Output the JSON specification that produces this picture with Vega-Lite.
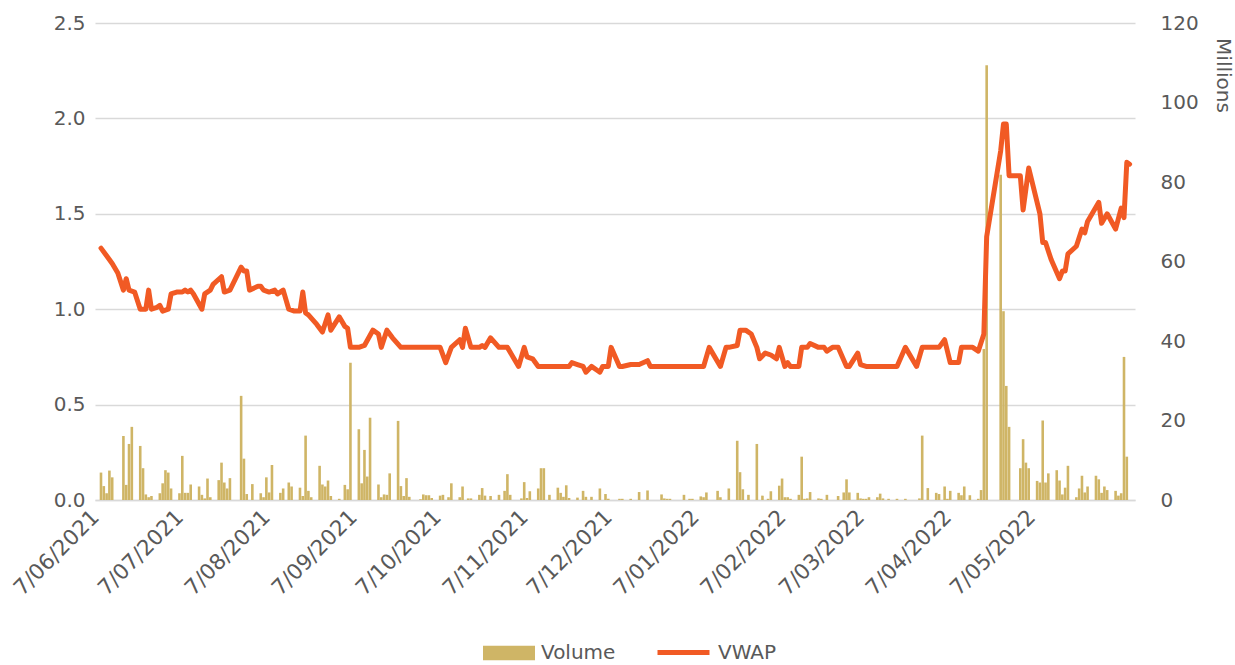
{
  "$schema": "https://vega.github.io/schema/vega-lite/v6.json",
  "width": 1040,
  "height": 477,
  "autosize": {"type": "none"},
  "padding": {"left": 95, "top": 23, "right": 100, "bottom": 165},
  "background": "white",
  "config": {
    "view": {"stroke": null},
    "font": "DejaVu Sans",
    "axis": {"labelColor": "#595959", "labelFontSize": 20, "labelFont": "DejaVu Sans", "ticks": false, "title": null}
  },
  "datasets": {
    "vwap": [
      {"date": "2021-06-07", "vwap": 1.32}, {"date": "2021-06-09", "vwap": 1.28}, {"date": "2021-06-11", "vwap": 1.24}, {"date": "2021-06-13", "vwap": 1.19},
      {"date": "2021-06-15", "vwap": 1.10}, {"date": "2021-06-16", "vwap": 1.16}, {"date": "2021-06-17", "vwap": 1.10}, {"date": "2021-06-19", "vwap": 1.09},
      {"date": "2021-06-21", "vwap": 1.00}, {"date": "2021-06-23", "vwap": 1.00}, {"date": "2021-06-24", "vwap": 1.10}, {"date": "2021-06-25", "vwap": 1.00},
      {"date": "2021-06-27", "vwap": 1.01}, {"date": "2021-06-28", "vwap": 1.02}, {"date": "2021-06-29", "vwap": 0.99}, {"date": "2021-07-01", "vwap": 1.00},
      {"date": "2021-07-02", "vwap": 1.08}, {"date": "2021-07-04", "vwap": 1.09}, {"date": "2021-07-06", "vwap": 1.09}, {"date": "2021-07-07", "vwap": 1.10},
      {"date": "2021-07-08", "vwap": 1.09}, {"date": "2021-07-09", "vwap": 1.10}, {"date": "2021-07-10", "vwap": 1.08}, {"date": "2021-07-13", "vwap": 1.00},
      {"date": "2021-07-14", "vwap": 1.08}, {"date": "2021-07-16", "vwap": 1.10}, {"date": "2021-07-17", "vwap": 1.13}, {"date": "2021-07-20", "vwap": 1.17},
      {"date": "2021-07-21", "vwap": 1.09}, {"date": "2021-07-23", "vwap": 1.10}, {"date": "2021-07-27", "vwap": 1.22}, {"date": "2021-07-28", "vwap": 1.20},
      {"date": "2021-07-29", "vwap": 1.20}, {"date": "2021-07-30", "vwap": 1.10}, {"date": "2021-08-02", "vwap": 1.12}, {"date": "2021-08-03", "vwap": 1.12},
      {"date": "2021-08-04", "vwap": 1.10}, {"date": "2021-08-06", "vwap": 1.09}, {"date": "2021-08-08", "vwap": 1.10}, {"date": "2021-08-09", "vwap": 1.08},
      {"date": "2021-08-11", "vwap": 1.10}, {"date": "2021-08-13", "vwap": 1.00}, {"date": "2021-08-15", "vwap": 0.99}, {"date": "2021-08-17", "vwap": 0.99},
      {"date": "2021-08-18", "vwap": 1.09}, {"date": "2021-08-19", "vwap": 0.98}, {"date": "2021-08-20", "vwap": 0.97}, {"date": "2021-08-23", "vwap": 0.92},
      {"date": "2021-08-25", "vwap": 0.88}, {"date": "2021-08-27", "vwap": 0.97}, {"date": "2021-08-28", "vwap": 0.89}, {"date": "2021-08-31", "vwap": 0.96},
      {"date": "2021-09-02", "vwap": 0.91}, {"date": "2021-09-03", "vwap": 0.90}, {"date": "2021-09-04", "vwap": 0.80}, {"date": "2021-09-07", "vwap": 0.80},
      {"date": "2021-09-09", "vwap": 0.81}, {"date": "2021-09-12", "vwap": 0.89}, {"date": "2021-09-14", "vwap": 0.87}, {"date": "2021-09-15", "vwap": 0.80},
      {"date": "2021-09-17", "vwap": 0.89}, {"date": "2021-09-19", "vwap": 0.85}, {"date": "2021-09-22", "vwap": 0.80}, {"date": "2021-10-06", "vwap": 0.80},
      {"date": "2021-10-08", "vwap": 0.72}, {"date": "2021-10-10", "vwap": 0.80}, {"date": "2021-10-13", "vwap": 0.84}, {"date": "2021-10-14", "vwap": 0.80},
      {"date": "2021-10-15", "vwap": 0.90}, {"date": "2021-10-17", "vwap": 0.80}, {"date": "2021-10-20", "vwap": 0.80}, {"date": "2021-10-21", "vwap": 0.81},
      {"date": "2021-10-22", "vwap": 0.80}, {"date": "2021-10-24", "vwap": 0.85}, {"date": "2021-10-27", "vwap": 0.80}, {"date": "2021-10-30", "vwap": 0.80},
      {"date": "2021-11-01", "vwap": 0.75}, {"date": "2021-11-03", "vwap": 0.70}, {"date": "2021-11-05", "vwap": 0.80}, {"date": "2021-11-06", "vwap": 0.75},
      {"date": "2021-11-08", "vwap": 0.74}, {"date": "2021-11-10", "vwap": 0.70}, {"date": "2021-11-21", "vwap": 0.70}, {"date": "2021-11-22", "vwap": 0.72},
      {"date": "2021-11-24", "vwap": 0.71}, {"date": "2021-11-26", "vwap": 0.70}, {"date": "2021-11-27", "vwap": 0.67}, {"date": "2021-11-29", "vwap": 0.70},
      {"date": "2021-12-01", "vwap": 0.68}, {"date": "2021-12-02", "vwap": 0.67}, {"date": "2021-12-03", "vwap": 0.70}, {"date": "2021-12-05", "vwap": 0.70},
      {"date": "2021-12-06", "vwap": 0.80}, {"date": "2021-12-09", "vwap": 0.70}, {"date": "2021-12-10", "vwap": 0.70}, {"date": "2021-12-13", "vwap": 0.71},
      {"date": "2021-12-16", "vwap": 0.71}, {"date": "2021-12-19", "vwap": 0.73}, {"date": "2021-12-20", "vwap": 0.70}, {"date": "2022-01-08", "vwap": 0.70},
      {"date": "2022-01-10", "vwap": 0.80}, {"date": "2022-01-14", "vwap": 0.70}, {"date": "2022-01-16", "vwap": 0.80}, {"date": "2022-01-17", "vwap": 0.80},
      {"date": "2022-01-20", "vwap": 0.81}, {"date": "2022-01-21", "vwap": 0.89}, {"date": "2022-01-23", "vwap": 0.89}, {"date": "2022-01-25", "vwap": 0.87},
      {"date": "2022-01-27", "vwap": 0.80}, {"date": "2022-01-28", "vwap": 0.74}, {"date": "2022-01-30", "vwap": 0.77}, {"date": "2022-02-01", "vwap": 0.76},
      {"date": "2022-02-03", "vwap": 0.74}, {"date": "2022-02-04", "vwap": 0.80}, {"date": "2022-02-06", "vwap": 0.70}, {"date": "2022-02-07", "vwap": 0.72},
      {"date": "2022-02-08", "vwap": 0.70}, {"date": "2022-02-11", "vwap": 0.70}, {"date": "2022-02-12", "vwap": 0.80}, {"date": "2022-02-14", "vwap": 0.80},
      {"date": "2022-02-15", "vwap": 0.82}, {"date": "2022-02-18", "vwap": 0.80}, {"date": "2022-02-20", "vwap": 0.80}, {"date": "2022-02-21", "vwap": 0.78},
      {"date": "2022-02-23", "vwap": 0.80}, {"date": "2022-02-25", "vwap": 0.80}, {"date": "2022-02-28", "vwap": 0.70}, {"date": "2022-03-01", "vwap": 0.70},
      {"date": "2022-03-04", "vwap": 0.77}, {"date": "2022-03-05", "vwap": 0.71}, {"date": "2022-03-07", "vwap": 0.70}, {"date": "2022-03-18", "vwap": 0.70},
      {"date": "2022-03-21", "vwap": 0.80}, {"date": "2022-03-25", "vwap": 0.70}, {"date": "2022-03-27", "vwap": 0.80}, {"date": "2022-04-02", "vwap": 0.80},
      {"date": "2022-04-04", "vwap": 0.84}, {"date": "2022-04-06", "vwap": 0.72}, {"date": "2022-04-09", "vwap": 0.72}, {"date": "2022-04-10", "vwap": 0.80},
      {"date": "2022-04-12", "vwap": 0.80}, {"date": "2022-04-14", "vwap": 0.80}, {"date": "2022-04-16", "vwap": 0.78}, {"date": "2022-04-18", "vwap": 0.87},
      {"date": "2022-04-19", "vwap": 1.38}, {"date": "2022-04-24", "vwap": 1.83}, {"date": "2022-04-25", "vwap": 1.97}, {"date": "2022-04-26", "vwap": 1.97},
      {"date": "2022-04-27", "vwap": 1.70}, {"date": "2022-05-01", "vwap": 1.70}, {"date": "2022-05-02", "vwap": 1.52}, {"date": "2022-05-04", "vwap": 1.74},
      {"date": "2022-05-08", "vwap": 1.50}, {"date": "2022-05-09", "vwap": 1.35}, {"date": "2022-05-10", "vwap": 1.35}, {"date": "2022-05-12", "vwap": 1.26},
      {"date": "2022-05-15", "vwap": 1.16}, {"date": "2022-05-16", "vwap": 1.20}, {"date": "2022-05-17", "vwap": 1.20}, {"date": "2022-05-18", "vwap": 1.29},
      {"date": "2022-05-21", "vwap": 1.33}, {"date": "2022-05-23", "vwap": 1.42}, {"date": "2022-05-24", "vwap": 1.40}, {"date": "2022-05-25", "vwap": 1.46},
      {"date": "2022-05-29", "vwap": 1.56}, {"date": "2022-05-30", "vwap": 1.45}, {"date": "2022-06-01", "vwap": 1.50}, {"date": "2022-06-04", "vwap": 1.42},
      {"date": "2022-06-06", "vwap": 1.53}, {"date": "2022-06-07", "vwap": 1.48}, {"date": "2022-06-08", "vwap": 1.77}, {"date": "2022-06-09", "vwap": 1.76}
    ],
    "volume": [
      {"date": "2021-06-07", "vol": 6.9}, {"date": "2021-06-08", "vol": 3.5}, {"date": "2021-06-09", "vol": 1.7}, {"date": "2021-06-10", "vol": 7.4}, {"date": "2021-06-11", "vol": 5.7},
      {"date": "2021-06-15", "vol": 16.1}, {"date": "2021-06-16", "vol": 3.8}, {"date": "2021-06-17", "vol": 14.1}, {"date": "2021-06-18", "vol": 18.4},
      {"date": "2021-06-21", "vol": 13.6}, {"date": "2021-06-22", "vol": 8.0}, {"date": "2021-06-23", "vol": 1.4}, {"date": "2021-06-24", "vol": 0.7}, {"date": "2021-06-25", "vol": 1.0},
      {"date": "2021-06-28", "vol": 1.7}, {"date": "2021-06-29", "vol": 4.2}, {"date": "2021-06-30", "vol": 7.5}, {"date": "2021-07-01", "vol": 6.9}, {"date": "2021-07-02", "vol": 2.9},
      {"date": "2021-07-05", "vol": 1.7}, {"date": "2021-07-06", "vol": 11.1}, {"date": "2021-07-07", "vol": 1.8}, {"date": "2021-07-08", "vol": 1.8}, {"date": "2021-07-09", "vol": 3.9},
      {"date": "2021-07-12", "vol": 3.4}, {"date": "2021-07-13", "vol": 1.3}, {"date": "2021-07-14", "vol": 0.4}, {"date": "2021-07-15", "vol": 5.4}, {"date": "2021-07-16", "vol": 0.7},
      {"date": "2021-07-19", "vol": 5.0}, {"date": "2021-07-20", "vol": 9.4}, {"date": "2021-07-21", "vol": 4.4}, {"date": "2021-07-22", "vol": 2.9}, {"date": "2021-07-23", "vol": 5.5},
      {"date": "2021-07-27", "vol": 26.2}, {"date": "2021-07-28", "vol": 10.4}, {"date": "2021-07-29", "vol": 1.5}, {"date": "2021-07-31", "vol": 4.0},
      {"date": "2021-08-03", "vol": 1.7}, {"date": "2021-08-04", "vol": 0.7}, {"date": "2021-08-05", "vol": 5.7}, {"date": "2021-08-06", "vol": 1.9}, {"date": "2021-08-07", "vol": 8.8},
      {"date": "2021-08-10", "vol": 1.8}, {"date": "2021-08-11", "vol": 2.9}, {"date": "2021-08-13", "vol": 4.4}, {"date": "2021-08-14", "vol": 3.4},
      {"date": "2021-08-17", "vol": 3.1}, {"date": "2021-08-18", "vol": 1.0}, {"date": "2021-08-19", "vol": 16.2}, {"date": "2021-08-20", "vol": 2.3}, {"date": "2021-08-21", "vol": 0.7},
      {"date": "2021-08-24", "vol": 8.6}, {"date": "2021-08-25", "vol": 3.9}, {"date": "2021-08-26", "vol": 3.4}, {"date": "2021-08-27", "vol": 4.9}, {"date": "2021-08-28", "vol": 1.0},
      {"date": "2021-08-31", "vol": 0.3}, {"date": "2021-09-02", "vol": 3.8}, {"date": "2021-09-03", "vol": 2.7}, {"date": "2021-09-04", "vol": 34.5},
      {"date": "2021-09-07", "vol": 17.8}, {"date": "2021-09-08", "vol": 4.2}, {"date": "2021-09-09", "vol": 12.6}, {"date": "2021-09-10", "vol": 5.9}, {"date": "2021-09-11", "vol": 20.7},
      {"date": "2021-09-14", "vol": 3.9}, {"date": "2021-09-15", "vol": 0.7}, {"date": "2021-09-16", "vol": 1.4}, {"date": "2021-09-17", "vol": 1.3}, {"date": "2021-09-18", "vol": 6.7},
      {"date": "2021-09-21", "vol": 19.9}, {"date": "2021-09-22", "vol": 3.5}, {"date": "2021-09-23", "vol": 1.0}, {"date": "2021-09-24", "vol": 5.5}, {"date": "2021-09-25", "vol": 0.8},
      {"date": "2021-09-29", "vol": 0.2}, {"date": "2021-09-30", "vol": 1.4}, {"date": "2021-10-01", "vol": 1.2}, {"date": "2021-10-02", "vol": 1.2}, {"date": "2021-10-03", "vol": 0.5},
      {"date": "2021-10-06", "vol": 1.1}, {"date": "2021-10-07", "vol": 1.3}, {"date": "2021-10-09", "vol": 0.7}, {"date": "2021-10-10", "vol": 4.2},
      {"date": "2021-10-13", "vol": 0.7}, {"date": "2021-10-14", "vol": 3.4}, {"date": "2021-10-16", "vol": 0.4}, {"date": "2021-10-17", "vol": 0.4},
      {"date": "2021-10-20", "vol": 1.3}, {"date": "2021-10-21", "vol": 3.0}, {"date": "2021-10-22", "vol": 1.1}, {"date": "2021-10-24", "vol": 1.0},
      {"date": "2021-10-27", "vol": 1.3}, {"date": "2021-10-29", "vol": 2.3}, {"date": "2021-10-30", "vol": 6.5}, {"date": "2021-10-31", "vol": 1.3},
      {"date": "2021-11-04", "vol": 0.4}, {"date": "2021-11-05", "vol": 4.5}, {"date": "2021-11-06", "vol": 0.5}, {"date": "2021-11-07", "vol": 2.2},
      {"date": "2021-11-10", "vol": 2.9}, {"date": "2021-11-11", "vol": 8.0}, {"date": "2021-11-12", "vol": 8.0}, {"date": "2021-11-14", "vol": 1.3},
      {"date": "2021-11-17", "vol": 3.1}, {"date": "2021-11-18", "vol": 1.8}, {"date": "2021-11-19", "vol": 0.8}, {"date": "2021-11-20", "vol": 3.7}, {"date": "2021-11-21", "vol": 0.5},
      {"date": "2021-11-24", "vol": 0.6}, {"date": "2021-11-26", "vol": 2.3}, {"date": "2021-11-27", "vol": 0.8}, {"date": "2021-11-29", "vol": 0.8},
      {"date": "2021-12-02", "vol": 2.9}, {"date": "2021-12-04", "vol": 1.5}, {"date": "2021-12-05", "vol": 0.3}, {"date": "2021-12-09", "vol": 0.3}, {"date": "2021-12-10", "vol": 0.3},
      {"date": "2021-12-13", "vol": 0.3}, {"date": "2021-12-16", "vol": 2.0}, {"date": "2021-12-19", "vol": 2.4}, {"date": "2021-12-24", "vol": 1.4}, {"date": "2021-12-25", "vol": 0.4},
      {"date": "2021-12-26", "vol": 0.3}, {"date": "2021-12-27", "vol": 0.3}, {"date": "2022-01-01", "vol": 1.3}, {"date": "2022-01-03", "vol": 0.3}, {"date": "2022-01-04", "vol": 0.3},
      {"date": "2022-01-07", "vol": 0.9}, {"date": "2022-01-08", "vol": 0.7}, {"date": "2022-01-09", "vol": 1.9}, {"date": "2022-01-13", "vol": 2.3}, {"date": "2022-01-14", "vol": 0.7},
      {"date": "2022-01-17", "vol": 2.9}, {"date": "2022-01-20", "vol": 14.9}, {"date": "2022-01-21", "vol": 7.0}, {"date": "2022-01-22", "vol": 2.7}, {"date": "2022-01-24", "vol": 1.3},
      {"date": "2022-01-27", "vol": 14.1}, {"date": "2022-01-29", "vol": 1.1}, {"date": "2022-01-31", "vol": 0.3}, {"date": "2022-02-01", "vol": 2.2},
      {"date": "2022-02-04", "vol": 3.6}, {"date": "2022-02-05", "vol": 5.4}, {"date": "2022-02-06", "vol": 0.7}, {"date": "2022-02-07", "vol": 0.7}, {"date": "2022-02-08", "vol": 0.3},
      {"date": "2022-02-11", "vol": 1.3}, {"date": "2022-02-12", "vol": 10.9}, {"date": "2022-02-13", "vol": 0.3}, {"date": "2022-02-14", "vol": 0.4}, {"date": "2022-02-15", "vol": 2.0},
      {"date": "2022-02-18", "vol": 0.4}, {"date": "2022-02-19", "vol": 0.3}, {"date": "2022-02-21", "vol": 1.3}, {"date": "2022-02-25", "vol": 1.0},
      {"date": "2022-02-27", "vol": 1.9}, {"date": "2022-02-28", "vol": 5.2}, {"date": "2022-03-01", "vol": 1.9}, {"date": "2022-03-04", "vol": 1.8}, {"date": "2022-03-05", "vol": 0.4},
      {"date": "2022-03-06", "vol": 0.3}, {"date": "2022-03-07", "vol": 0.3}, {"date": "2022-03-08", "vol": 0.7}, {"date": "2022-03-11", "vol": 0.7}, {"date": "2022-03-12", "vol": 1.6},
      {"date": "2022-03-13", "vol": 0.4}, {"date": "2022-03-15", "vol": 0.3}, {"date": "2022-03-18", "vol": 0.3}, {"date": "2022-03-21", "vol": 0.3}, {"date": "2022-03-26", "vol": 0.4},
      {"date": "2022-03-27", "vol": 16.2}, {"date": "2022-03-29", "vol": 3.0}, {"date": "2022-04-01", "vol": 1.8}, {"date": "2022-04-02", "vol": 1.5}, {"date": "2022-04-04", "vol": 3.4},
      {"date": "2022-04-05", "vol": 0.3}, {"date": "2022-04-06", "vol": 2.3}, {"date": "2022-04-09", "vol": 1.8}, {"date": "2022-04-10", "vol": 1.2}, {"date": "2022-04-11", "vol": 3.4},
      {"date": "2022-04-13", "vol": 1.2}, {"date": "2022-04-16", "vol": 0.3}, {"date": "2022-04-17", "vol": 2.5}, {"date": "2022-04-18", "vol": 38.0}, {"date": "2022-04-19", "vol": 109.4},
      {"date": "2022-04-24", "vol": 81.8}, {"date": "2022-04-25", "vol": 47.5}, {"date": "2022-04-26", "vol": 28.7}, {"date": "2022-04-27", "vol": 18.4},
      {"date": "2022-05-01", "vol": 8.0}, {"date": "2022-05-02", "vol": 15.3}, {"date": "2022-05-03", "vol": 9.4}, {"date": "2022-05-04", "vol": 8.0},
      {"date": "2022-05-07", "vol": 4.8}, {"date": "2022-05-08", "vol": 4.4}, {"date": "2022-05-09", "vol": 20.0}, {"date": "2022-05-10", "vol": 4.4}, {"date": "2022-05-11", "vol": 6.7},
      {"date": "2022-05-14", "vol": 7.5}, {"date": "2022-05-15", "vol": 4.9}, {"date": "2022-05-16", "vol": 1.4}, {"date": "2022-05-17", "vol": 3.1}, {"date": "2022-05-18", "vol": 8.6},
      {"date": "2022-05-21", "vol": 0.7}, {"date": "2022-05-22", "vol": 2.9}, {"date": "2022-05-23", "vol": 6.1}, {"date": "2022-05-24", "vol": 1.9}, {"date": "2022-05-25", "vol": 3.4},
      {"date": "2022-05-28", "vol": 6.1}, {"date": "2022-05-29", "vol": 5.2}, {"date": "2022-05-30", "vol": 1.8}, {"date": "2022-05-31", "vol": 3.4}, {"date": "2022-06-01", "vol": 2.5},
      {"date": "2022-06-04", "vol": 2.3}, {"date": "2022-06-05", "vol": 1.1}, {"date": "2022-06-06", "vol": 1.7}, {"date": "2022-06-07", "vol": 36.0}, {"date": "2022-06-08", "vol": 10.9}
    ]
  },
  "layer": [
    {
      "data": {"name": "volume"},
      "mark": {"type": "bar", "size": 2.6},
      "encoding": {
        "x": {
          "field": "date", "type": "temporal",
          "scale": {"type": "utc", "domain": [
            {"year": 2021, "month": 6, "date": 6, "hours": 15, "minutes": 30, "utc": true},
            {"year": 2022, "month": 6, "date": 9, "hours": 3, "minutes": 20, "utc": true}
          ]},
          "axis": {
            "labelExpr": "utcFormat(datum.value, '%-d/%m/%Y')", "labelAngle": -45, "labelPadding": 6, "labelFontSize": 21.5,
            "labelOffset": -13, "labelOverlap": false, "labelBound": false, "labelFlush": false,
            "domain": true, "domainColor": "#D9D9D9", "domainWidth": 1.5, "grid": false,
            "values": [
              {"year": 2021, "month": 6, "date": 7, "utc": true}, {"year": 2021, "month": 7, "date": 7, "utc": true},
              {"year": 2021, "month": 8, "date": 7, "utc": true}, {"year": 2021, "month": 9, "date": 7, "utc": true},
              {"year": 2021, "month": 10, "date": 7, "utc": true}, {"year": 2021, "month": 11, "date": 7, "utc": true},
              {"year": 2021, "month": 12, "date": 7, "utc": true}, {"year": 2022, "month": 1, "date": 7, "utc": true},
              {"year": 2022, "month": 2, "date": 7, "utc": true}, {"year": 2022, "month": 3, "date": 7, "utc": true},
              {"year": 2022, "month": 4, "date": 7, "utc": true}, {"year": 2022, "month": 5, "date": 7, "utc": true}
            ]
          }
        },
        "y": {
          "field": "vol", "type": "quantitative",
          "scale": {"domain": [0, 120], "nice": false},
          "axis": {
            "orient": "right", "values": [0, 20, 40, 60, 80, 100, 120], "grid": false, "domain": false,
            "labelPadding": 25, "title": "Millions", "titleFontSize": 20, "titleFontWeight": "normal", "titleColor": "#595959",
            "titleAngle": 90, "titleX": 87, "titleY": 52, "titleAlign": "center", "titleBaseline": "middle"
          }
        },
        "fill": {
          "datum": "Volume",
          "scale": {"range": ["#CFB566"]},
          "legend": {
            "title": null, "orient": "none", "legendX": 388, "legendY": 604,
            "symbolType": "M-1,-0.28H1V0.28H-1Z", "symbolSize": 2704, "symbolStrokeWidth": 0,
            "labelFontSize": 20, "labelColor": "#595959", "labelOffset": 6
          }
        }
      }
    },
    {
      "data": {"name": "vwap"},
      "mark": {"type": "line", "strokeWidth": 5, "strokeJoin": "round", "strokeCap": "round"},
      "encoding": {
        "x": {"field": "date", "type": "temporal"},
        "y": {
          "field": "vwap", "type": "quantitative",
          "scale": {"domain": [0, 2.5], "nice": false},
          "axis": {
            "orient": "left", "values": [0, 0.5, 1, 1.5, 2, 2.5], "format": ".1f",
            "grid": true, "gridColor": "#D9D9D9", "gridWidth": 1.5, "domain": false, "labelPadding": 10
          }
        },
        "stroke": {
          "datum": "VWAP",
          "scale": {"range": ["#F15A24"]},
          "legend": {
            "title": null, "orient": "none", "legendX": 560, "legendY": 601,
            "symbolType": "stroke", "symbolSize": 2704, "symbolStrokeWidth": 5,
            "labelFontSize": 20, "labelColor": "#595959", "labelOffset": 6
          }
        }
      }
    }
  ],
  "resolve": {"scale": {"y": "independent", "fill": "independent", "stroke": "independent"}}
}
